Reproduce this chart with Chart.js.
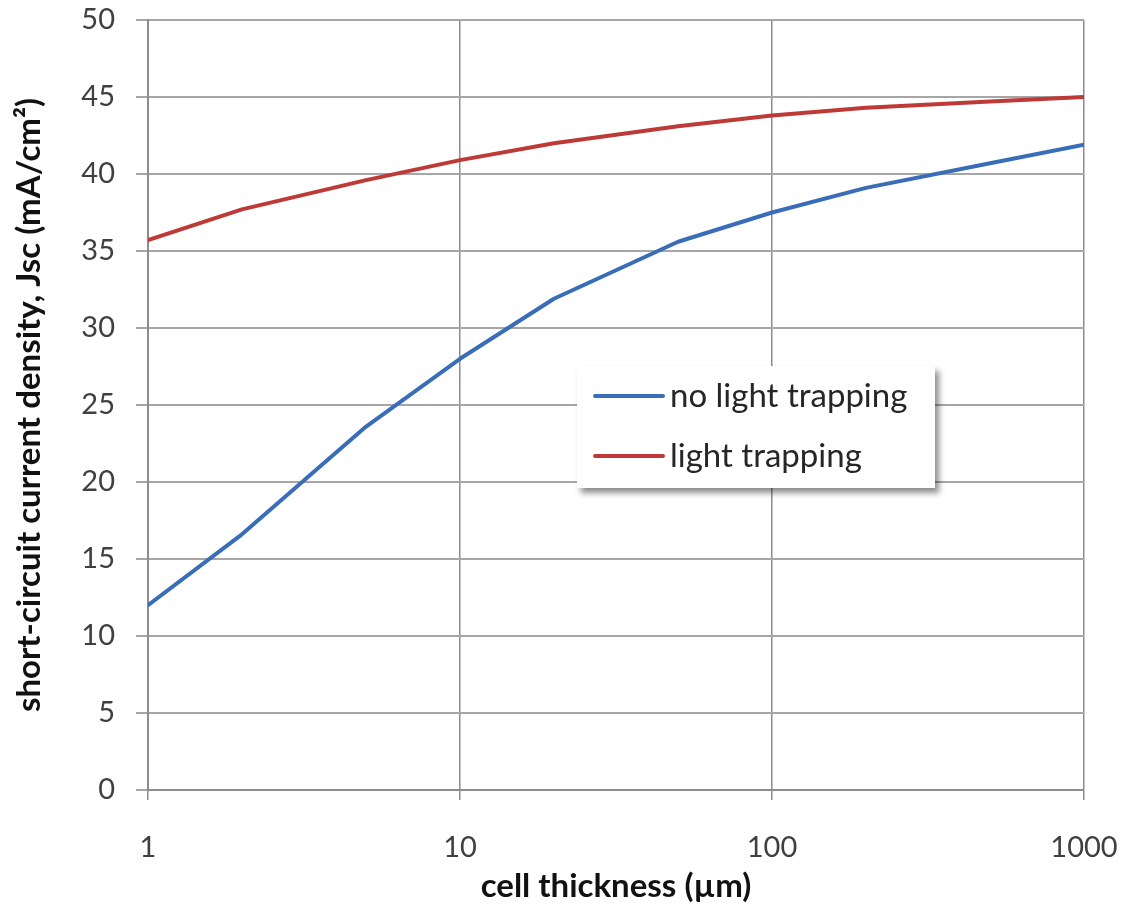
<!DOCTYPE html>
<html lang="en">
<head>
    <meta charset="UTF-8">
    <title>Jsc vs cell thickness</title>
    <script src="https://cdn.jsdelivr.net/npm/chart.js"></script>
    <style>
        body { margin: 0; background: #fff; }
        #wrap { position: relative; width: 1126px; height: 912px; }
        #legend {
            position: absolute; left: 577px; top: 366px; width: 358px; height: 122px;
            background: #fff; box-shadow: 4px 5px 6px rgba(0, 0, 0, 0.45);
            font-family: Lato, sans-serif; font-size: 33px; color: #262626;
            box-sizing: border-box; padding-top: 0;
        }
        .item { display: flex; align-items: center; height: 60px; margin-left: 16px; }
        .item span:last-child { position: relative; top: -2px; }
        .swatch { width: 72px; height: 4px; margin-right: 5px; border-radius: 2px; }
    </style>
</head>
<body>
    <div id="wrap">
        <canvas id="jscChart" width="1126" height="912"></canvas>
        <div id="legend"></div>
    </div>

    <script>
        // cell thickness in µm
        const thickness = [1, 2, 5, 10, 20, 50, 100, 200, 500, 1000];
        // Jsc in mA/cm²
        const noTrapping = [12.0, 16.6, 23.6, 28.0, 31.9, 35.6, 37.5, 39.1, 40.7, 41.9];
        const trapping = [35.7, 37.7, 39.6, 40.9, 42.0, 43.1, 43.8, 44.3, 44.7, 45.0];
        const xTicks = [1, 10, 100, 1000];

        const seriesNames = ["no light trapping", "light trapping"];
        const seriesColors = ["#3a6db8", "#bd3a36"];

        const toPoints = ys => thickness.map((x, i) => ({ x: x, y: ys[i] }));

        const chart = new Chart(document.getElementById("jscChart"), {
            type: "line",
            data: {
                datasets: [
                    { label: seriesNames[0], data: toPoints(noTrapping), borderColor: seriesColors[0] },
                    { label: seriesNames[1], data: toPoints(trapping), borderColor: seriesColors[1] }
                ]
            },
            options: {
                responsive: false,
                animation: false,
                layout: { padding: { top: 20, right: 42, left: 0, bottom: 0 } },
                elements: {
                    line: { borderWidth: 4, tension: 0, borderCapStyle: "round", borderJoinStyle: "round" },
                    point: { radius: 0 }
                },
                plugins: { legend: { display: false }, tooltip: { enabled: false } },
                scales: {
                    x: {
                        type: "logarithmic",
                        min: 1,
                        max: 1000,
                        afterBuildTicks: axis => { axis.ticks = xTicks.map(v => ({ value: v })); },
                        afterFit: axis => {
                            axis.height = 122;
                            axis.paddingLeft = 0;
                            axis.paddingRight = 0;
                        },
                        ticks: {
                            color: "#404040",
                            font: { family: "Lato", size: 29 },
                            padding: 30,
                            maxRotation: 0,
                            callback: v => String(v)
                        },
                        grid: { color: "#8c8c8c", lineWidth: 1.5, tickLength: 10 },
                        border: { color: "#8c8c8c", width: 2 },
                        title: {
                            display: true,
                            text: "cell thickness (µm)",
                            color: "#111",
                            font: { family: "Lato", size: 33, weight: "bold" },
                            padding: { top: 0, bottom: 6 }
                        }
                    },
                    y: {
                        min: 0,
                        max: 50,
                        afterFit: axis => {
                            axis.width = 148;
                            axis.paddingTop = 0;
                            axis.paddingBottom = 0;
                        },
                        ticks: {
                            stepSize: 5,
                            color: "#404040",
                            font: { family: "Lato", size: 29 },
                            padding: 21
                        },
                        grid: { color: "#a6a6a6", lineWidth: 2, tickLength: 12 },
                        border: { color: "#8c8c8c", width: 2 },
                        title: {
                            display: true,
                            text: "short-circuit current density, Jsc (mA/cm²)",
                            color: "#111",
                            font: { family: "Lato", size: 33, weight: "bold" },
                            padding: { top: 10, bottom: 0 }
                        }
                    }
                }
            }
        });

        // legend box placed inside the plot like the original
        const legend = document.getElementById("legend");
        seriesNames.forEach((name, i) => {
            const row = document.createElement("div");
            row.className = "item";
            const sw = document.createElement("span");
            sw.className = "swatch";
            sw.style.background = seriesColors[i];
            const label = document.createElement("span");
            label.textContent = name;
            row.appendChild(sw);
            row.appendChild(label);
            legend.appendChild(row);
        });
    </script>
</body>
</html>
